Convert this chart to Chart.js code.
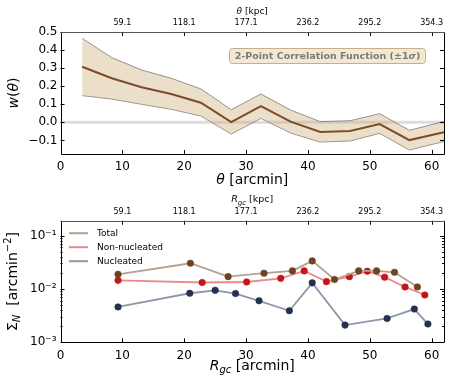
<!DOCTYPE html>
<html>
<head>
<meta charset="utf-8">
<script src="https://cdn.jsdelivr.net/npm/chart.js@4.4.0/dist/chart.umd.min.js"></script>
<style>
  body { margin: 0; background: #fff; }
  #wrap { position: relative; width: 463px; height: 386px; }
  canvas { position: absolute; left: 0; }
</style>
</head>
<body>
<div id="wrap">
  <canvas id="corrChart" width="463" height="190" style="top:0"></canvas>
  <canvas id="densChart" width="463" height="196" style="top:190px"></canvas>
</div>
<script>
// ---- top panel: 2-point correlation function
const thetaArcmin = [3.5, 8.3, 13.1, 17.9, 22.7, 27.6, 32.4, 37.2, 42.0, 46.8, 51.6, 56.4, 62.0];
const wMean  = [0.308, 0.244, 0.194, 0.157, 0.109, 0.002, 0.090, 0.004, -0.053, -0.048, -0.009, -0.098, -0.054];
const wUpper = [0.465, 0.358, 0.290, 0.244, 0.185, 0.070, 0.157, 0.068, 0.004, 0.009, 0.048, -0.044, 0.005];
const wLower = [0.148, 0.129, 0.100, 0.072, 0.035, -0.065, 0.022, -0.059, -0.109, -0.103, -0.061, -0.153, -0.106];
const wTicks = [-0.1, 0, 0.1, 0.2, 0.3, 0.4, 0.5];

// ---- bottom panel: surface density
const totalR = [9.3, 21.0, 27.1, 32.9, 37.5, 40.7, 44.3, 48.2, 51.1, 54.0, 57.7];
const totalSigma = [0.0188, 0.0303, 0.0170, 0.0197, 0.0218, 0.0335, 0.0150, 0.0218, 0.0218, 0.0205, 0.0109];
const nonNucR = [9.3, 22.9, 30.1, 35.6, 39.4, 43.0, 46.7, 49.6, 52.4, 55.7, 58.9];
const nonNucSigma = [0.0145, 0.0132, 0.0135, 0.0158, 0.0218, 0.0137, 0.0170, 0.0215, 0.0166, 0.0109, 0.0077];
const nucR = [9.3, 20.9, 25.0, 28.3, 32.1, 37.0, 40.7, 46.0, 52.8, 57.2, 59.4];
const nucSigma = [0.0046, 0.0083, 0.0094, 0.0082, 0.0060, 0.0039, 0.0130, 0.0021, 0.0028, 0.0042, 0.0022];
const sigmaTicks = [0.001, 0.01, 0.1];
const sigmaLabels = ['10\u207B\u00B3', '10\u207B\u00B2', '10\u207B\u00B9'];

// shared axes (arcmin below, kpc on top)
const arcminTicks = [0, 10, 20, 30, 40, 50, 60];
const kpcTickArcmin = [10, 20, 30, 40, 50, 60];
const kpcLabels = ['59.1', '118.1', '177.1', '236.2', '295.2', '354.3'];

const FONT = "'DejaVu Sans'";
const pts = (xs, ys) => xs.map((x, i) => ({ x: x, y: ys[i] }));

function drawRich(ctx, parts, x, y, rot) {
  ctx.save();
  ctx.translate(x, y);
  if (rot) ctx.rotate(rot);
  let w = 0;
  parts.forEach(p => { ctx.font = p.f; w += ctx.measureText(p.t).width; });
  let cx = -w / 2;
  ctx.textBaseline = 'middle';
  ctx.fillStyle = parts[0].c || '#000';
  parts.forEach(p => {
    ctx.font = p.f;
    ctx.fillText(p.t, cx, p.dy || 0);
    cx += ctx.measureText(p.t).width;
  });
  ctx.restore();
}

// spines + inward ticks, matplotlib style
const frame = {
  id: 'frame',
  afterDatasetsDraw(chart) {
    const { ctx, chartArea: a, scales } = chart;
    ctx.save();
    ctx.lineWidth = 1;
    ctx.strokeStyle = '#000';
    ctx.beginPath();
    scales.x.ticks.forEach(t => {
      const px = Math.round(scales.x.getPixelForValue(t.value)) + 0.5;
      ctx.moveTo(px, a.bottom); ctx.lineTo(px, a.bottom - 4);
    });
    scales.x2.ticks.forEach(t => {
      const px = Math.round(scales.x2.getPixelForValue(t.value)) + 0.5;
      ctx.moveTo(px, a.top); ctx.lineTo(px, a.top + 4);
    });
    scales.y.ticks.forEach(t => {
      const py = Math.round(scales.y.getPixelForValue(t.value)) + 0.5;
      ctx.moveTo(a.left, py); ctx.lineTo(a.left + 4, py);
      ctx.moveTo(a.right, py); ctx.lineTo(a.right - 4, py);
    });
    if (scales.y.type === 'logarithmic') {
      for (let e = -3; e <= -1; e++) {
        for (let k = 2; k <= 9; k++) {
          const v = k * Math.pow(10, e);
          if (v > scales.y.max) continue;
          const py = Math.round(scales.y.getPixelForValue(v)) + 0.5;
          ctx.moveTo(a.left, py); ctx.lineTo(a.left + 2, py);
          ctx.moveTo(a.right, py); ctx.lineTo(a.right - 2, py);
        }
      }
    }
    ctx.stroke();
    ctx.beginPath();
    ctx.moveTo(Math.round(a.left) + 0.5, a.top);
    ctx.lineTo(Math.round(a.left) + 0.5, Math.round(a.bottom) + 0.5);
    ctx.lineTo(Math.round(a.right) + 0.5, Math.round(a.bottom) + 0.5);
    ctx.lineTo(Math.round(a.right) + 0.5, a.top);
    ctx.stroke();
    ctx.strokeStyle = '#555';
    ctx.beginPath();
    ctx.moveTo(a.left, Math.round(a.top) + 0.5);
    ctx.lineTo(a.right + 1, Math.round(a.top) + 0.5);
    ctx.stroke();
    ctx.restore();
  }
};

const zeroLine = {
  id: 'zeroLine',
  beforeDatasetsDraw(chart) {
    const { ctx, chartArea: a, scales } = chart;
    const py = scales.y.getPixelForValue(0);
    ctx.save();
    ctx.strokeStyle = '#dddddd';
    ctx.lineWidth = 3;
    ctx.beginPath();
    ctx.moveTo(a.left, py); ctx.lineTo(a.right, py);
    ctx.stroke();
    ctx.restore();
  }
};

const corrLabels = {
  id: 'corrLabels',
  afterDraw(chart) {
    const ctx = chart.ctx;
    const cxm = (chart.chartArea.left + chart.chartArea.right) / 2;
    drawRich(ctx, [
      { t: '\u03B8', f: 'italic 14px ' + FONT },
      { t: ' [arcmin]', f: '14px ' + FONT }
    ], cxm, 180);
    drawRich(ctx, [
      { t: '\u03B8', f: 'italic 9px ' + FONT },
      { t: ' [kpc]', f: '9px ' + FONT }
    ], cxm, 12);
    drawRich(ctx, [
      { t: 'w', f: 'italic 14px ' + FONT },
      { t: '(', f: '14px ' + FONT },
      { t: '\u03B8', f: 'italic 14px ' + FONT },
      { t: ')', f: '14px ' + FONT }
    ], 14, 93, -Math.PI / 2);
    // annotation box
    const bx = 229, by = 48, bw = 196, bh = 15;
    ctx.save();
    ctx.fillStyle = '#f4e8d2';
    ctx.strokeStyle = '#c6b08c';
    ctx.lineWidth = 1;
    ctx.beginPath();
    ctx.roundRect(bx + 0.5, by + 0.5, bw, bh, 3);
    ctx.fill();
    ctx.stroke();
    ctx.restore();
    drawRich(ctx, [
      { t: '2-Point Correlation Function (\u00B11', f: 'bold 9.5px ' + FONT, c: '#7a7a7a' },
      { t: '\u03C3', f: 'italic bold 9.5px ' + FONT },
      { t: ')', f: 'bold 9.5px ' + FONT }
    ], bx + bw / 2 + 0.5, by + bh / 2 + 1);
  }
};

const densLabels = {
  id: 'densLabels',
  afterDraw(chart) {
    const ctx = chart.ctx;
    const a = chart.chartArea;
    const cxm = (a.left + a.right) / 2;
    drawRich(ctx, [
      { t: 'R', f: 'italic 14px ' + FONT },
      { t: 'gc', f: 'italic 10px ' + FONT, dy: 4 },
      { t: ' [arcmin]', f: '14px ' + FONT }
    ], cxm, 176);
    drawRich(ctx, [
      { t: 'R', f: 'italic 9.5px ' + FONT },
      { t: 'gc', f: 'italic 7px ' + FONT, dy: 3 },
      { t: ' [kpc]', f: '9.5px ' + FONT }
    ], cxm, 10);
    drawRich(ctx, [
      { t: '\u03A3', f: '14px ' + FONT },
      { t: 'N', f: 'italic 10px ' + FONT, dy: 4 },
      { t: '  [arcmin', f: '14px ' + FONT },
      { t: '\u22122', f: '10px ' + FONT, dy: -5 },
      { t: ']', f: '14px ' + FONT }
    ], 13, (a.top + a.bottom) / 2, -Math.PI / 2);
    // legend, from the datasets themselves
    ctx.save();
    chart.data.datasets.forEach((ds, i) => {
      const y = a.top + 12.5 + i * 14;
      ctx.strokeStyle = ds.borderColor;
      ctx.lineWidth = 2;
      ctx.beginPath();
      ctx.moveTo(69, y); ctx.lineTo(88, y);
      ctx.stroke();
      ctx.fillStyle = '#000';
      ctx.font = '9px ' + FONT;
      ctx.textBaseline = 'middle';
      ctx.fillText(ds.label, 97, y);
    });
    ctx.restore();
  }
};

const noGrid = { display: false, drawTicks: false };

function xScales(bottomH, topH) {
  return {
    x: {
      type: 'linear', position: 'bottom', min: 0, max: 62,
      afterBuildTicks: s => { s.ticks = arcminTicks.map(v => ({ value: v })); },
      ticks: { color: '#000', font: { family: FONT, size: 12 }, padding: 6, maxRotation: 0 },
      grid: noGrid, border: { display: false },
      afterFit: s => { s.height = bottomH; }
    },
    x2: {
      type: 'linear', position: 'top', min: 0, max: 62,
      afterBuildTicks: s => { s.ticks = kpcTickArcmin.map(v => ({ value: v })); },
      ticks: { color: '#000', font: { family: FONT, size: 8 }, padding: 4, maxRotation: 0,
               callback: (v, i) => kpcLabels[i] },
      grid: noGrid, border: { display: false },
      afterFit: s => { s.height = topH; }
    }
  };
}

const common = {
  responsive: false,
  animation: false,
  events: [],
  layout: { padding: { left: 0, right: 19, top: 0, bottom: 0 } },
  plugins: { legend: { display: false }, tooltip: { enabled: false } }
};

new Chart(document.getElementById('corrChart'), {
  type: 'line',
  data: {
    datasets: [
      { label: 'mean', data: pts(thetaArcmin, wMean), borderColor: '#7b4b2a', borderWidth: 2,
        pointRadius: 0, fill: false, tension: 0 },
      { label: 'upper', data: pts(thetaArcmin, wUpper), borderColor: '#7a7a7a', borderWidth: 0.8,
        pointRadius: 0, fill: '+1', backgroundColor: 'rgba(205,172,115,0.38)', tension: 0 },
      { label: 'lower', data: pts(thetaArcmin, wLower), borderColor: '#7a7a7a', borderWidth: 0.8,
        pointRadius: 0, fill: false, tension: 0 }
    ]
  },
  options: Object.assign({}, common, {
    scales: Object.assign(xScales(36, 32), {
      y: {
        min: -0.175, max: 0.5,
        afterBuildTicks: s => { s.ticks = wTicks.map(v => ({ value: v })); },
        ticks: { color: '#000', font: { family: FONT, size: 12 }, padding: 3,
                 callback: v => (v < -1e-9 ? '\u2212' : '') + Math.abs(v).toFixed(1) },
        grid: noGrid, border: { display: false },
        afterFit: s => { s.width = 60.5; }
      }
    })
  }),
  plugins: [zeroLine, frame, corrLabels]
});

new Chart(document.getElementById('densChart'), {
  type: 'line',
  data: {
    datasets: [
      { label: 'Total', data: pts(totalR, totalSigma), borderColor: '#b9a08b', borderWidth: 1.8,
        pointRadius: 3.3, pointBackgroundColor: '#6e4324', pointBorderColor: '#6e4324', pointBorderWidth: 0.5, tension: 0 },
      { label: 'Non-nucleated', data: pts(nonNucR, nonNucSigma), borderColor: '#e98a8b', borderWidth: 1.8,
        pointRadius: 3.3, pointBackgroundColor: '#c4151c', pointBorderColor: '#c4151c', pointBorderWidth: 0.5, tension: 0 },
      { label: 'Nucleated', data: pts(nucR, nucSigma), borderColor: '#8f96aa', borderWidth: 1.8,
        pointRadius: 3.3, pointBackgroundColor: '#24304f', pointBorderColor: '#24304f', pointBorderWidth: 0.5, tension: 0 }
    ]
  },
  options: Object.assign({}, common, {
    scales: Object.assign(xScales(43.7, 30.7), {
      y: {
        type: 'logarithmic', min: 0.001, max: 0.19,
        afterBuildTicks: s => { s.ticks = sigmaTicks.map(v => ({ value: v })); },
        ticks: { color: '#000', font: { family: FONT, size: 12 }, padding: 4,
                 callback: (v, i) => sigmaLabels[i] },
        grid: noGrid, border: { display: false },
        afterFit: s => { s.width = 60.5; }
      }
    })
  }),
  plugins: [frame, densLabels]
});
</script>
</body>
</html>
